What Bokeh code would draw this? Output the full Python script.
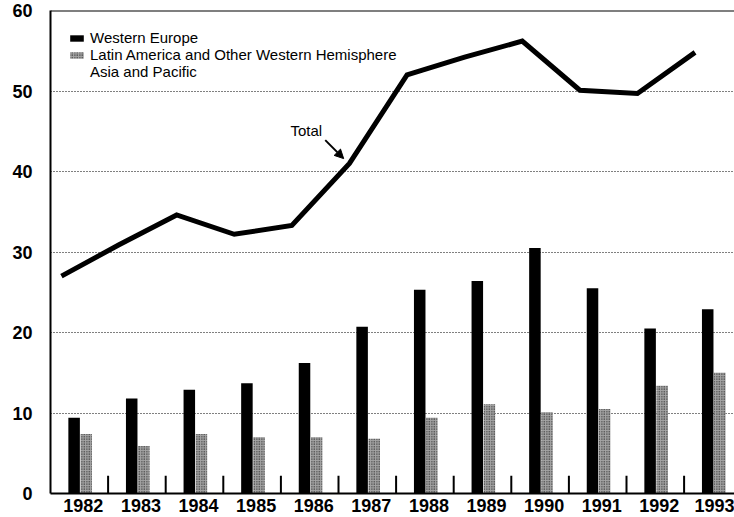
import numpy as np
from bokeh.plotting import figure
from bokeh.models import (Range1d, FixedTicker, Span, Legend, LegendItem,
                          Arrow, NormalHead, Label)
from bokeh.embed import file_html
from bokeh.resources import INLINE

# ---- data ----
years = ["1982", "1983", "1984", "1985", "1986", "1987",
         "1988", "1989", "1990", "1991", "1992", "1993"]
western_europe = [9.4, 11.8, 12.9, 13.7, 16.2, 20.7, 25.3, 26.4, 30.5, 25.5, 20.5, 22.9]
latin_america = [7.4, 5.9, 7.4, 7.0, 7.0, 6.8, 9.4, 11.1, 10.1, 10.5, 13.4, 15.0]
asia_pacific = [10.2, 13.2, 14.3, 11.5, 10.1, 13.5, 17.3, 16.7, 15.6, 14.1, 15.8, 16.9]
total = [27.0, 30.9, 34.6, 32.2, 33.3, 41.0, 52.0, 54.2, 56.2, 50.1, 49.7, 54.8]
y_ticks = [0, 10, 20, 30, 40, 50, 60]

FONT = "Liberation Sans"

n = len(years)
idx = np.arange(n, dtype=float)
x_we = idx + 0.41
x_la = idx + 0.62
x_as = idx + 0.83
x_tot = idx + 0.19
x_lab = [float(i) + 0.57 for i in range(n)]
bounds = idx[1:]

p = figure(width=734, height=517,
           x_range=Range1d(0, 11.875), y_range=Range1d(0, 60),
           output_backend="svg", toolbar_location=None,
           min_border_left=50, min_border_right=0, min_border_top=10,
           min_border_bottom=24,
           background_fill_color="white", border_fill_color="white",
           outline_line_color=None)

# grid
p.xgrid.visible = False
p.ygrid.ticker = FixedTicker(ticks=y_ticks)
p.ygrid.grid_line_color = "black"
p.ygrid.grid_line_dash = "1 2"
p.ygrid.grid_line_width = 1

# bars
r_we = p.vbar(x=x_we, top=western_europe, width=0.2, bottom=0,
              fill_color="black", line_color=None)
r_la = p.vbar(x=x_la, top=latin_america, width=0.2, bottom=0,
              fill_color="#a4a4a4", line_color=None,
              hatch_pattern="dot", hatch_color="#000000", hatch_scale=2.5,
              hatch_weight=1, hatch_alpha=0.9)
r_as = p.vbar(x=x_as, top=asia_pacific, width=0.2, bottom=0,
              fill_color="white", fill_alpha=0.0, line_color=None)

# year separators
p.segment(x0=bounds, y0=0, x1=bounds, y1=2.2, line_color="black", line_width=2)

# total line
p.line(x=x_tot, y=total, line_color="black", line_width=5, line_join="miter")

# top border line
p.add_layout(Span(location=60, dimension="width", line_color="black", line_width=2))

# annotation
p.add_layout(Label(x=4.44, y=45.1, text="Total", text_align="center",
                   text_baseline="middle", text_font=FONT,
                   text_font_size="15px", text_color="black"))
p.add_layout(Arrow(end=NormalHead(size=9, fill_color="black", line_color="black"),
                   x_start=4.77, y_start=43.9, x_end=5.09, y_end=41.6,
                   line_color="black", line_width=2))

# axes
p.yaxis.ticker = FixedTicker(ticks=y_ticks)
p.yaxis.major_tick_in = 0
p.yaxis.major_tick_out = 0
p.yaxis.minor_tick_line_color = None
p.yaxis.axis_line_width = 2
p.yaxis.axis_line_color = "black"
p.yaxis.major_label_text_font = FONT
p.yaxis.major_label_text_font_size = "18px"
p.yaxis.major_label_text_font_style = "bold"
p.yaxis.major_label_text_color = "black"
p.yaxis.major_label_standoff = 18

p.xaxis.ticker = FixedTicker(ticks=x_lab)
p.xaxis.major_label_overrides = {v: y for v, y in zip(x_lab, years)}
p.xaxis.major_tick_in = 0
p.xaxis.major_tick_out = 0
p.xaxis.minor_tick_line_color = None
p.xaxis.axis_line_width = 2
p.xaxis.axis_line_color = "black"
p.xaxis.major_label_text_font = FONT
p.xaxis.major_label_text_font_size = "18px"
p.xaxis.major_label_text_font_style = "bold"
p.xaxis.major_label_text_color = "black"
p.xaxis.major_label_standoff = 5

# legend
legend = Legend(items=[
    LegendItem(label="Western Europe", renderers=[r_we]),
    LegendItem(label="Latin America and Other Western Hemisphere", renderers=[r_la]),
    LegendItem(label="Asia and Pacific", renderers=[r_as]),
], location=(18, 413), orientation="vertical",
    label_text_font=FONT, label_text_font_size="15px", label_text_color="black",
    glyph_width=17, glyph_height=8, label_height=15, label_standoff=5,
    spacing=0, padding=0, margin=0,
    background_fill_alpha=0.0, border_line_color=None)
p.add_layout(legend)

open("out.html", "w").write(file_html(p, INLINE))
